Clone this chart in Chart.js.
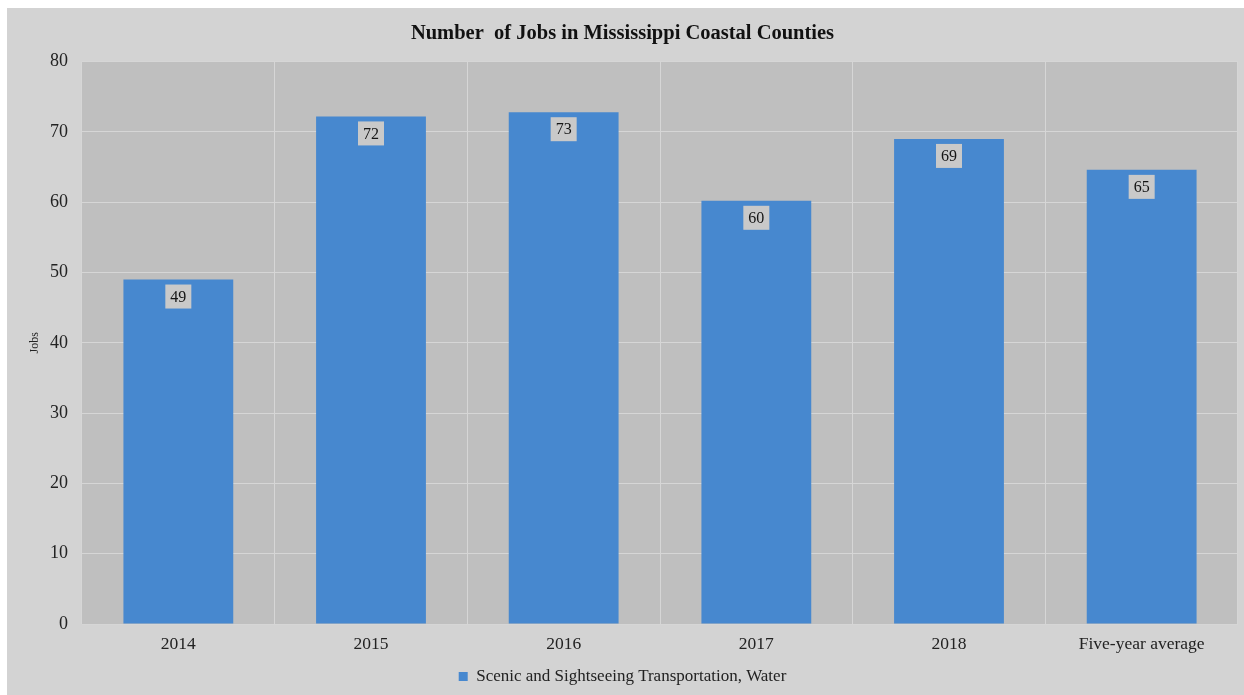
<!DOCTYPE html>
<html>
<head>
<meta charset="utf-8">
<script src="https://cdn.jsdelivr.net/npm/chart.js@4/dist/chart.umd.min.js"></script>
<style>
  html, body { margin: 0; padding: 0; background: #ffffff; }
  #wrap { position: absolute; left: 7px; top: 8px; width: 1237px; height: 687px; background: #d3d3d3; }
  canvas { display: block; }
</style>
</head>
<body>
<div id="wrap"><canvas id="c" width="1237" height="687"></canvas></div>
<script>
const categories = ["2014", "2015", "2016", "2017", "2018", "Five-year average"];
const jobs = [49, 72.2, 72.8, 60.2, 69, 64.6];
const labels = ["49", "72", "73", "60", "69", "65"];
const seriesName = "Scenic and Sightseeing Transportation, Water";
const yTicks = [0, 10, 20, 30, 40, 50, 60, 70, 80];

const serif = "'Liberation Serif', 'Times New Roman', serif";

const plotBg = {
  id: 'plotBg',
  beforeDraw(chart) {
    const {ctx, chartArea: a} = chart;
    ctx.save();
    ctx.fillStyle = '#bfbfbf';
    ctx.fillRect(a.left, a.top, a.right - a.left, a.bottom - a.top);
    ctx.restore();
  }
};

const dataLabels = {
  id: 'dataLabels',
  afterDatasetsDraw(chart) {
    const {ctx} = chart;
    const meta = chart.getDatasetMeta(0);
    ctx.save();
    ctx.font = '16px ' + serif;
    ctx.textAlign = 'center';
    ctx.textBaseline = 'middle';
    meta.data.forEach((bar, i) => {
      const t = labels[i];
      const w = ctx.measureText(t).width + 10;
      const h = 24;
      const cx = bar.x;
      const top = bar.y + 5;
      ctx.fillStyle = '#c9c9c9';
      ctx.fillRect(cx - w / 2, top, w, h);
      ctx.fillStyle = '#151515';
      ctx.fillText(t, cx, top + h / 2 + 1);
    });
    ctx.restore();
  }
};

new Chart(document.getElementById('c'), {
  type: 'bar',
  data: {
    labels: categories,
    datasets: [{
      label: seriesName,
      data: jobs,
      backgroundColor: '#4788cf',
      borderWidth: 0,
      barPercentage: 0.57,
      categoryPercentage: 1.0
    }]
  },
  plugins: [plotBg, dataLabels],
  options: {
    responsive: false,
    animation: false,
    layout: { padding: { left: 0, right: 6, top: 0, bottom: 0 } },
    plugins: {
      title: {
        display: true,
        text: 'Number  of Jobs in Mississippi Coastal Counties',
        color: '#111',
        font: { family: serif, size: 20.5, weight: 'bold' },
        padding: { top: 13, bottom: 16 }
      },
      legend: {
        position: 'bottom',
        labels: {
          color: '#222',
          font: { family: serif, size: 17 },
          boxWidth: 9,
          boxHeight: 9,
          padding: 9
        }
      },
      tooltip: { enabled: false }
    },
    scales: {
      x: {
        grid: { color: '#d6d6d6', lineWidth: 1, drawTicks: false, offset: true },
        border: { display: false },
        ticks: { color: '#222', font: { family: serif, size: 17.5 }, padding: 10, maxRotation: 0 },
        afterFit(scale) { scale.height = 35; }
      },
      y: {
        min: 0, max: 80,
        afterBuildTicks(scale) { scale.ticks = yTicks.map(v => ({ value: v })); },
        grid: { color: '#d6d6d6', lineWidth: 1, drawTicks: false },
        border: { display: false },
        ticks: { color: '#222', font: { family: serif, size: 18 }, padding: 14 },
        title: {
          display: true,
          text: 'Jobs',
          color: '#222',
          font: { family: serif, size: 12 },
          padding: { top: 21, bottom: 0 }
        },
        afterFit(scale) { scale.width = 75; }
      }
    }
  }
});
</script>
</body>
</html>
